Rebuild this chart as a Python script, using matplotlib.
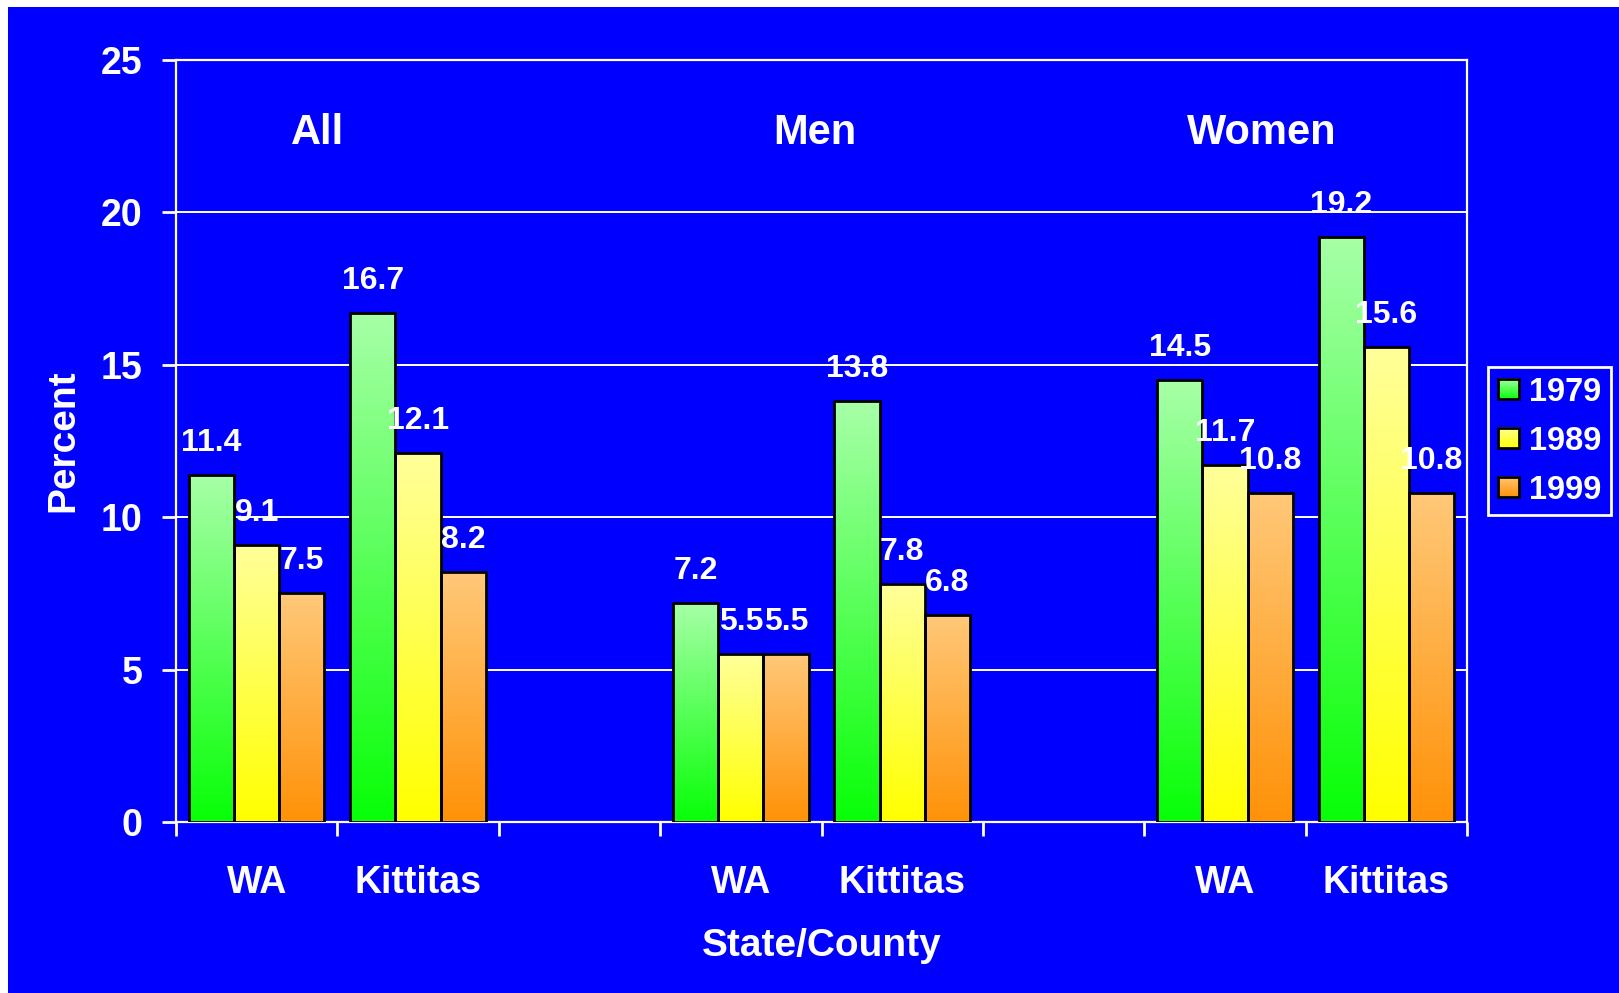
import numpy as np
import matplotlib
matplotlib.use('Agg')
import matplotlib.pyplot as plt
from matplotlib.patches import Rectangle
from matplotlib.legend_handler import HandlerBase
from matplotlib.image import BboxImage
from matplotlib.transforms import Bbox, TransformedBbox
from matplotlib.colors import to_rgb

plt.rcParams['font.family'] = ['Liberation Sans', 'DejaVu Sans']
plt.rcParams['font.weight'] = 'bold'

# data
places = ['WA', 'Kittitas', '', 'WA', 'Kittitas', '', 'WA', 'Kittitas']
groups = ['All', 'Men', 'Women']
years = ['1979', '1989', '1999']
v1979 = [11.4, 16.7, None, 7.2, 13.8, None, 14.5, 19.2]
v1989 = [9.1, 12.1, None, 5.5, 7.8, None, 11.7, 15.6]
v1999 = [7.5, 8.2, None, 5.5, 6.8, None, 10.8, 10.8]

blue = '#0000FF'
# (top colour, bottom colour) of each series gradient
shades = [('#A6FFA6', '#08FF08'), ('#FFFF99', '#FFFF00'), ('#FFC878', '#FF9208')]


def gradient(top, bottom, n=64):
    t = np.linspace(0, 1, n)[:, None]
    c = np.array(to_rgb(top)) * (1 - t) + np.array(to_rgb(bottom)) * t
    return c[:, None, :]


class GradientHandler(HandlerBase):
    def __init__(self, top, bottom):
        super().__init__()
        self.top, self.bottom = top, bottom

    def create_artists(self, legend, orig_handle, xdescent, ydescent,
                       width, height, fontsize, trans):
        s = height
        x0 = -xdescent + (width - s) / 2
        y0 = -ydescent
        bb = TransformedBbox(Bbox.from_bounds(x0, y0, s, s), trans)
        img = BboxImage(bb, interpolation='bilinear')
        img.set_data(gradient(self.top, self.bottom))
        rect = Rectangle((x0, y0), s, s, facecolor='none', edgecolor='black',
                         linewidth=2, transform=trans)
        return [img, rect]


fig = plt.figure(figsize=(16.19, 9.93), dpi=100)
fig.patch.set_facecolor('white')
fig.patches.append(Rectangle((8 / 1619, 0), 1, 1 - 7 / 993, transform=fig.transFigure,
                             facecolor=blue, edgecolor='none', zorder=-10))
ax = fig.add_axes([176 / 1619, 1 - 822 / 993, 1291 / 1619, 762 / 993])
ax.set_facecolor(blue)

x = np.arange(len(places))
w = 0.28
handles = []
for i, (vals, (top, bottom)) in enumerate(zip([v1979, v1989, v1999], shades)):
    xs = [xi + (i - 1) * w for xi, v in zip(x, vals) if v is not None]
    hs = [v for v in vals if v is not None]
    bars = ax.bar(xs, hs, w, facecolor='none', edgecolor='black', linewidth=2, zorder=3)
    for b in bars:
        im = ax.imshow(gradient(top, bottom),
                       extent=[b.get_x(), b.get_x() + b.get_width(), 0, b.get_height()],
                       aspect='auto', interpolation='bilinear', zorder=2)
        im.set_clip_path(b)
        ax.annotate(f'{b.get_height():g}', (b.get_x() + b.get_width() / 2, b.get_height()),
                    xytext=(0, 23), textcoords='offset points', ha='center', va='center',
                    color='white', fontsize=23, fontweight='bold', zorder=4)
    handles.append(bars)

ax.set_xlim(-0.5, len(places) - 0.5)
ax.set_ylim(0, 25)
ax.set_yticks(np.arange(0, 26, 5))
ax.set_xticks(x)
ax.set_xticklabels(places)
ax.set_xticks(np.arange(-0.5, len(places), 1), minor=True)
ax.tick_params(axis='x', which='major', length=0, pad=31, labelsize=27, labelcolor='white')
ax.tick_params(axis='x', which='minor', length=10, width=2, color='white', direction='out')
ax.tick_params(axis='y', length=10, width=2, color='white', pad=14, labelsize=27,
               labelcolor='white')
ax.grid(axis='y', color='white', linewidth=1.4, zorder=1)
ax.set_axisbelow(True)
for side in ['left', 'bottom', 'right', 'top']:
    ax.spines[side].set_color('white')
    ax.spines[side].set_linewidth(1.6)

ax.set_ylabel('Percent', color='white', fontsize=28, fontweight='bold', labelpad=14)
ax.set_xlabel('State/County', color='white', fontsize=28, fontweight='bold', labelpad=19.5)

# group headings
for gx, g in zip([0.38, 3.46, 6.23], groups):
    ax.text(gx, 22.6, g, ha='center', va='center', color='white', fontsize=30,
            fontweight='bold')

leg = fig.legend(handles, years, loc='upper left', bbox_to_anchor=(1488 / 1619, 1 - 367 / 993),
                 borderaxespad=0, frameon=True, fancybox=False, framealpha=1,
                 facecolor=blue, edgecolor='white', fontsize=23.5, labelcolor='white',
                 handlelength=0.65, handleheight=0.58, handletextpad=0.3, labelspacing=0.55,
                 borderpad=0.3,
                 handler_map={h: GradientHandler(t, b) for h, (t, b) in zip(handles, shades)})
leg.get_frame().set_linewidth(2)
for t in leg.get_texts():
    t.set_fontweight('bold')

fig.savefig('out.png', dpi=100, facecolor=fig.get_facecolor())
